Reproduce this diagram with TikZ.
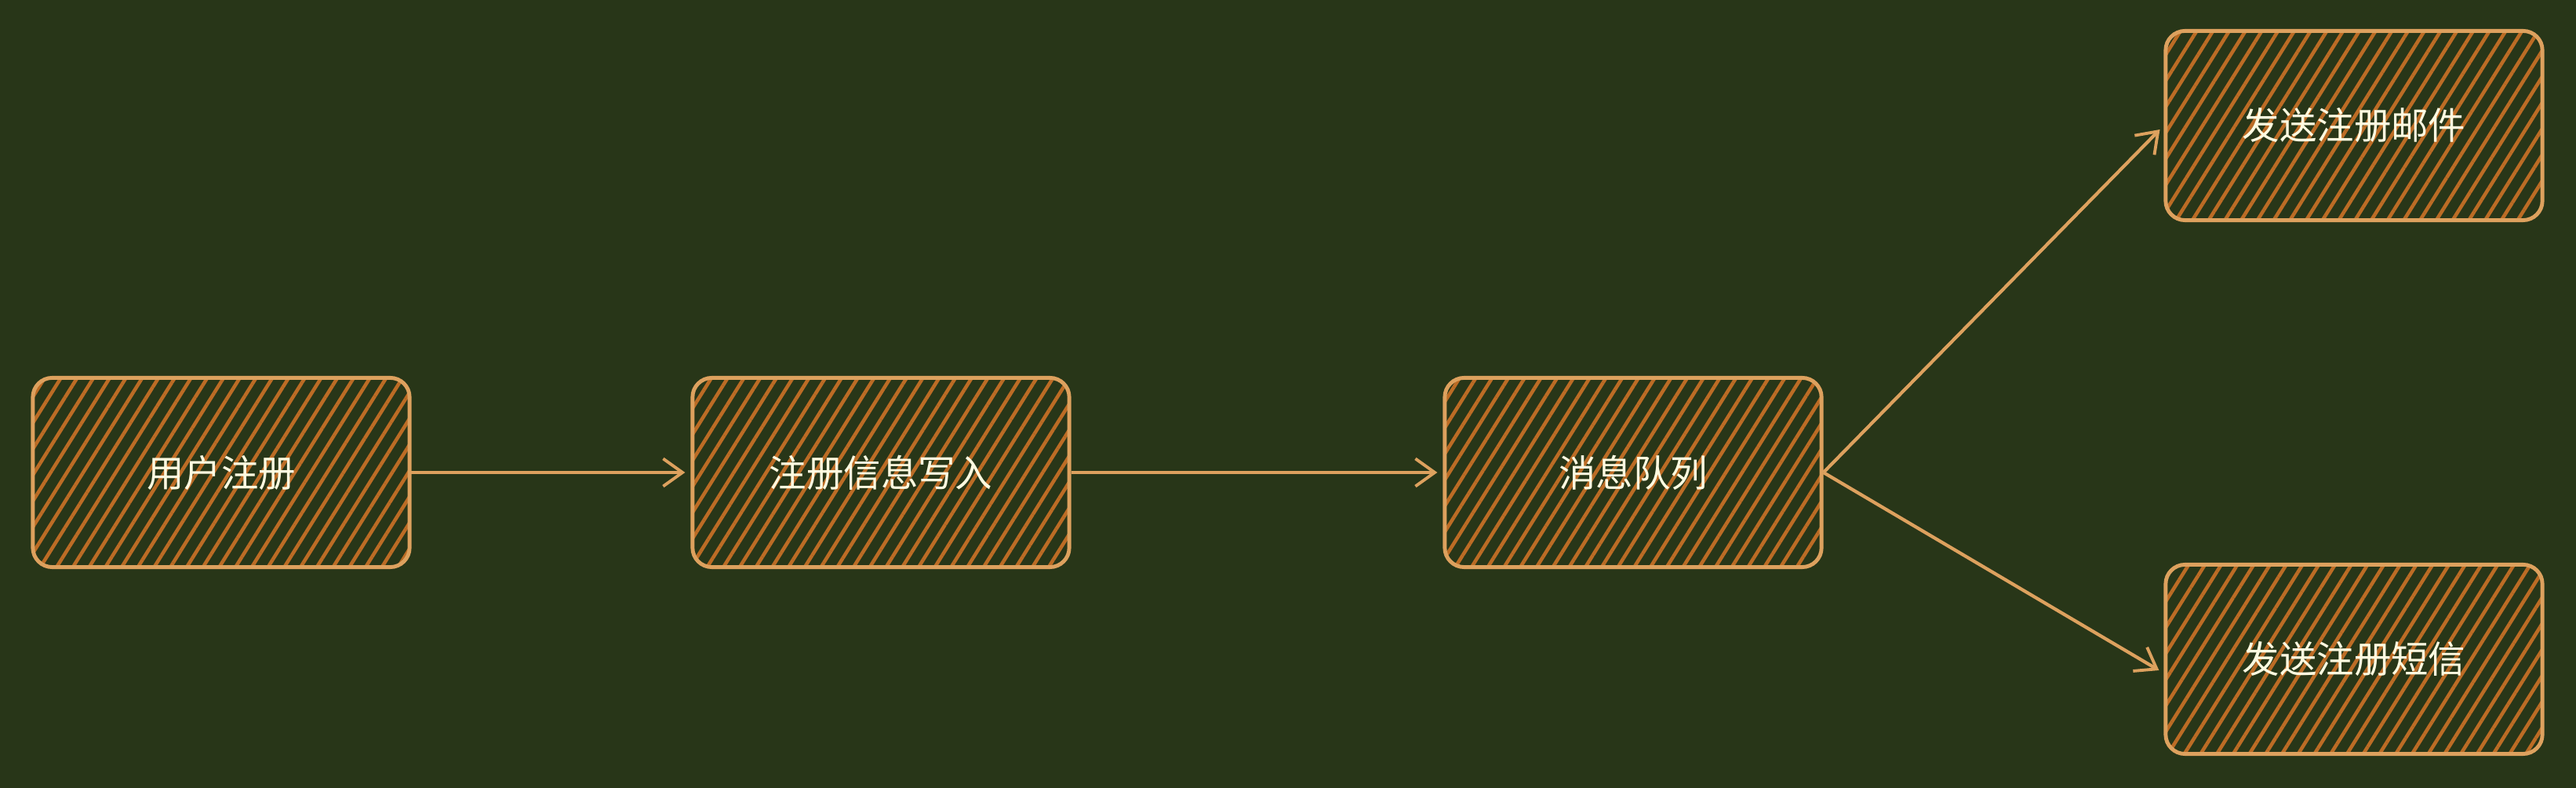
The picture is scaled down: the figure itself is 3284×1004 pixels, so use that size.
\documentclass[tikz,border=0pt]{standalone}
\usepackage{fontspec}
\newfontfamily\cjk{Noto Sans CJK SC}
\usepackage{xcolor}
\usetikzlibrary{arrows.meta,patterns.meta}
\definecolor{bgdark}{HTML}{283618}
\definecolor{strokeamber}{HTML}{DDA15E}
\definecolor{hatchbrown}{HTML}{BC6C25}
\definecolor{textcream}{HTML}{FEFAE0}

\tikzset{
  flowbox/.style={rectangle, rounded corners=7pt, draw=strokeamber, line width=1.4pt,
    pattern={Lines[angle=58,distance=5pt,line width=1.3pt]}, pattern color=hatchbrown,
    minimum width=4.8cm, minimum height=2.41cm, inner sep=0pt,
    font=\cjk\fontsize{13.5}{16}\selectfont, text=textcream},
  flowarrow/.style={-{Straight Barb[length=7pt,width=10pt,line width=1.1pt]}, strokeamber, line width=1.2pt, shorten >=2pt}
}

\begin{document}
\begin{tikzpicture}[x=0.01cm, y=-0.01cm]

% Background
\fill[bgdark] (0,0) rectangle (3284,1004);
\useasboundingbox (0,0) rectangle (3284,1004);

% Main flow
\node[flowbox] (reg) at (282,602) {用户注册};
\node[flowbox] (write) at (1123,602) {注册信息写入};
\node[flowbox] (mq) at (2082,602) {消息队列};

% Consumers
\node[flowbox] (mail) at (3001,160) {发送注册邮件};
\node[flowbox] (sms) at (3001,840) {发送注册短信};

% Arrows
\draw[flowarrow] (reg.east) -- (write.west);
\draw[flowarrow] (write.east) -- (mq.west);
\draw[flowarrow] (mq.east) -- (mail.west);
\draw[flowarrow] (mq.east) -- ([yshift=-5pt]sms.west);

\end{tikzpicture}
\end{document}
